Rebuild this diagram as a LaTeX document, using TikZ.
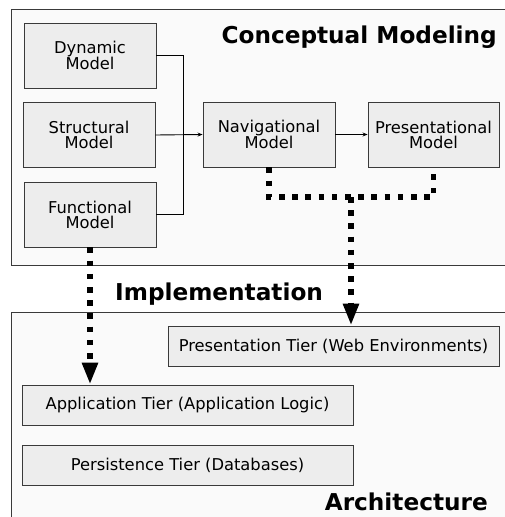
\documentclass[tikz,border=0pt]{standalone}
\usepackage{fontspec}
\setmainfont{DejaVu Sans}
\usetikzlibrary{arrows.meta}
\definecolor{boxfill}{HTML}{EDEDED}
\definecolor{areafill}{HTML}{FAFAFA}
\definecolor{edge}{HTML}{3A3A3A}
\begin{document}
\begin{tikzpicture}[x=1pt, y=-1pt,
  model/.style={draw=edge, fill=boxfill, line width=0.9pt, minimum width=132pt,
    minimum height=65pt, inner sep=0pt, align=center, font=\fontsize{16.3}{15}\selectfont},
  tier/.style={draw=edge, fill=boxfill, line width=0.9pt, minimum width=331pt,
    minimum height=40pt, inner sep=0pt, font=\fontsize{16.3}{15}\selectfont},
  heading/.style={inner sep=0pt, font=\fontsize{23.2}{26}\selectfont\bfseries},
  flow/.style={line width=0.9pt, -{Stealth[length=5pt, width=4pt]}},
  dotline/.style={line width=5.5pt, dash pattern=on 5.5pt off 7.7pt},
  dotarrow/.style={dotline, -{Triangle[length=22pt, width=15pt]}}]
  \useasboundingbox (0,0) rectangle (504,517);

  % Areas
  \draw[draw=edge, fill=areafill, line width=0.9pt] (11,9) rectangle (508,265);
  \draw[draw=edge, fill=areafill, line width=0.9pt] (11,312) rectangle (508,521);
  \node[heading, anchor=base east] (cm) at (497,43) {Conceptual Modeling};
  \node[heading, anchor=base west] (impl) at (115,300) {Implementation};
  \node[heading, anchor=base east] (arch) at (488,510) {Architecture};

  % Models
  \node[model] (dyn) at (90,55.5) {Dynamic\\Model};
  \node[model] (str) at (89,135) {Structural\\Model};
  \node[model] (fun) at (90,214.5) {Functional\\Model};
  \node[model] (nav) at (269,134.5) {Navigational\\Model};
  \node[model, minimum width=131pt] (pres) at (433.5,134.5) {Presentational\\Model};

  % Tiers
  \node[tier] (ptier) at (333.5,346) {Presentation Tier (Web Environments)};
  \node[tier] (atier) at (187.5,405) {Application Tier (Application Logic)};
  \node[tier] (stier) at (187.5,465) {Persistence Tier (Databases)};

  % Model connectors
  \coordinate (brk) at (183,55.5);
  \draw[line width=0.9pt] (dyn.east) -- (brk) |- (fun.east);
  \draw[flow] (str.east) -- (nav.west);
  \draw[flow] (nav.east) -- (pres.west);

  % Implementation
  \coordinate (jn) at (351,197);
  \draw[dotline] (nav.south) |- (jn) -| (pres.south);
  \draw[dotarrow] (jn) -- (jn |- ptier.north);
  \draw[dotarrow] (fun.south) -- (fun.south |- atier.north);

\end{tikzpicture}
\end{document}
